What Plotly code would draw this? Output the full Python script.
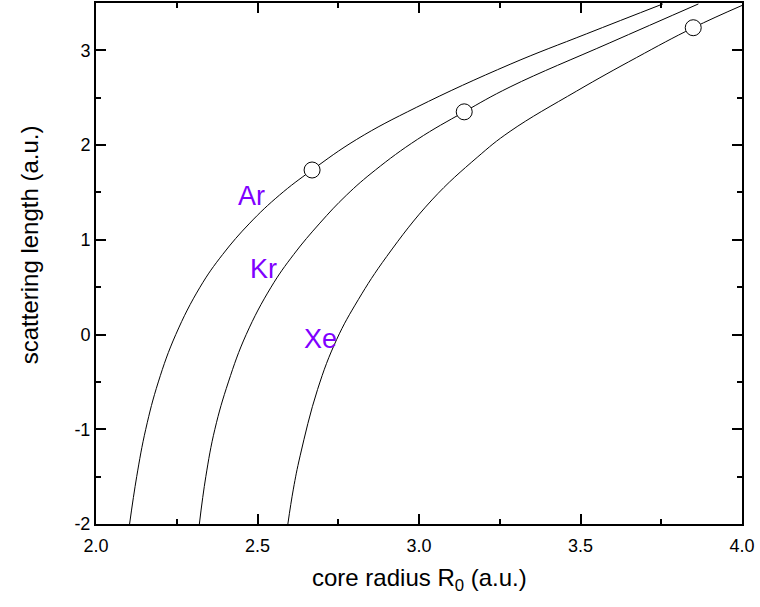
import plotly.graph_objects as go

# Curve readings (core radius R0, scattering length)
ar_x = [2.104, 2.126, 2.154, 2.193, 2.247, 2.322, 2.392, 2.476, 2.568, 2.669, 2.807, 2.993, 3.282, 3.519, 3.755]
ar_y = [-2.0, -1.5, -1.0, -0.5, 0.0, 0.5, 0.845, 1.176, 1.472, 1.737, 2.06, 2.40, 2.853, 3.175, 3.49]

kr_x = [2.320, 2.340, 2.368, 2.410, 2.465, 2.542, 2.612, 2.693, 2.775, 2.865, 2.995, 3.140, 3.282, 3.591, 3.865]
kr_y = [-2.0, -1.5, -1.0, -0.5, 0.0, 0.5, 0.845, 1.176, 1.47, 1.737, 2.06, 2.351, 2.614, 3.08, 3.49]

xe_x = [2.594, 2.611, 2.632, 2.686, 2.745, 2.812, 2.900, 3.040, 3.180, 3.282, 3.488, 3.674, 3.849, 4.0]
xe_y = [-2.0, -1.632, -1.28, -0.579, -0.053, 0.368, 0.824, 1.421, 1.870, 2.145, 2.57, 2.925, 3.239, 3.474]

# Marked points (open circles)
pt_x = [2.669, 3.140, 3.849]
pt_y = [1.737, 2.351, 3.239]

# Curve labels
lab_text = ["Ar", "Kr", "Xe"]
lab_x = [2.480, 2.520, 2.694]
lab_y = [1.463, 0.695, -0.042]

# Tick labels
x_ticks = [2.0, 2.5, 3.0, 3.5, 4.0]
x_ticklabels = ["2.0", "2.5", "3.0", "3.5", "4.0"]
y_ticks = [-2, -1, 0, 1, 2, 3]
y_ticklabels = ["-2", "-1", "0", "1", "2", "3"]

FONT = "Liberation Sans, Arial, sans-serif"

fig = go.Figure()
for xs, ys in [(ar_x, ar_y), (kr_x, kr_y), (xe_x, xe_y)]:
    fig.add_trace(go.Scatter(x=xs, y=ys, mode="lines",
                             line=dict(color="black", width=1, shape="spline", smoothing=1.15),
                             showlegend=False, hoverinfo="skip"))
fig.add_trace(go.Scatter(x=pt_x, y=pt_y, mode="markers",
                         marker=dict(symbol="circle", size=16, color="white",
                                     line=dict(color="black", width=1)),
                         showlegend=False, cliponaxis=False, hoverinfo="skip"))

for t, x, y in zip(lab_text, lab_x, lab_y):
    fig.add_annotation(x=x, y=y, text=t, showarrow=False, xref="x", yref="y",
                       font=dict(family=FONT, size=27, color="#8000FF"),
                       xanchor="center", yanchor="middle")

fig.add_annotation(x=0.5, y=-0.107, xref="paper", yref="paper", showarrow=False,
                   text="core radius R<sub>0</sub> (a.u.)",
                   font=dict(family=FONT, size=24, color="black"),
                   xanchor="center", yanchor="middle")
fig.add_annotation(x=-0.1037, y=0.535, xref="paper", yref="paper", showarrow=False,
                   text="scattering length (a.u.)", textangle=-90,
                   font=dict(family=FONT, size=24, color="black"),
                   xanchor="center", yanchor="middle")

axis_common = dict(showgrid=False, zeroline=False, showline=True, linecolor="black",
                   linewidth=2, mirror="allticks", ticks="inside", ticklen=10,
                   tickwidth=2, tickcolor="black", automargin=False,
                   tickmode="array",
                   tickfont=dict(family=FONT, size=18, color="black"))

fig.update_xaxes(range=[2.0, 4.0], tickvals=x_ticks, ticktext=x_ticklabels,
                 ticklabelstandoff=4,
                 minor=dict(ticks="inside", ticklen=5, tickwidth=2, tickmode="linear",
                            tick0=2.0, dtick=0.25, tickcolor="black"),
                 **axis_common)
fig.update_yaxes(range=[-2.0, 3.5], tickvals=y_ticks, ticktext=y_ticklabels,
                 minor=dict(ticks="inside", ticklen=5, tickwidth=2, tickmode="linear",
                            tick0=-2.0, dtick=0.5, tickcolor="black"),
                 **axis_common)

fig.update_layout(width=760, height=607, plot_bgcolor="white", paper_bgcolor="white",
                  margin=dict(l=96, r=18, t=3, b=83), showlegend=False)

fig.write_html("out.html", config={"displayModeBar": False},
               post_script="document.body.style.margin='0px';document.body.style.padding='0px';")
